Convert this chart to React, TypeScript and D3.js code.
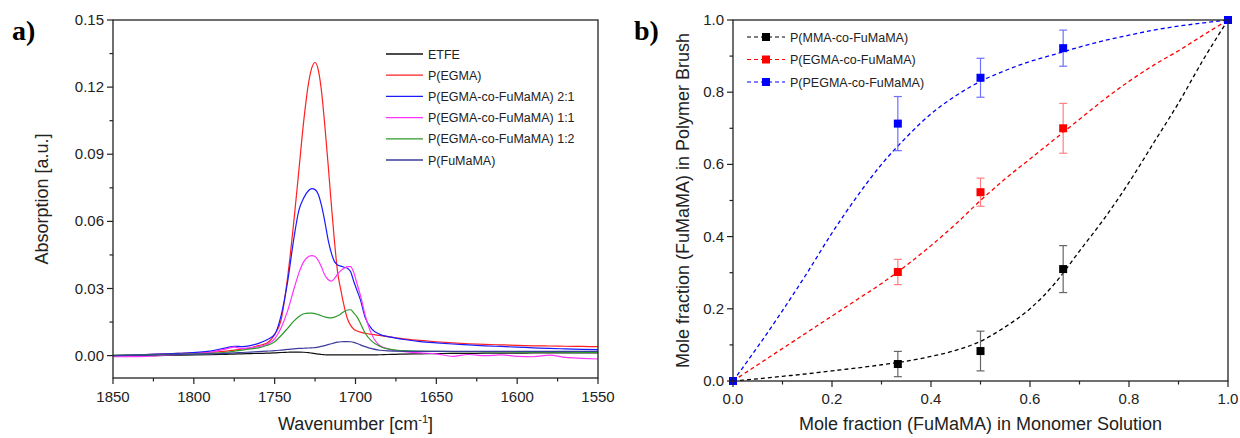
import * as d3 from 'd3';
import React from 'react';

// ---- panel a) FTIR spectra ----
const WAVENUMBERS = [1850, 1830, 1810, 1790, 1780, 1775, 1770, 1765, 1760, 1755, 1750, 1746, 1742, 1738, 1735, 1732, 1729, 1727, 1725, 1723, 1721, 1719, 1717, 1715, 1713, 1711, 1709, 1707, 1705, 1703, 1701, 1699, 1697, 1694, 1690, 1685, 1680, 1675, 1670, 1660, 1650, 1640, 1630, 1620, 1610, 1600, 1590, 1580, 1570, 1560, 1550];

const ETFE = [0, 0, 0.0002, 0.0004, 0.0006, 0.0007, 0.0008, 0.0009, 0.001, 0.0011, 0.0012, 0.0014, 0.0015, 0.0016, 0.0016, 0.0015, 0.0013, 0.0011, 0.0009, 0.0007, 0.0005, 0.0004, 0.0003, 0.0003, 0.0003, 0.0003, 0.0003, 0.0003, 0.0003, 0.0003, 0.0003, 0.0003, 0.0003, 0.0003, 0.0003, 0.0004, 0.0005, 0.0006, 0.0007, 0.0008, 0.0009, 0.001, 0.001, 0.0011, 0.0011, 0.0011, 0.0012, 0.0012, 0.0012, 0.0012, 0.0012];
const EGMA = [0, 0.0005, 0.001, 0.0015, 0.002, 0.0025, 0.003, 0.0035, 0.0045, 0.0055, 0.0095, 0.016, 0.035, 0.061, 0.083, 0.105, 0.122, 0.1287, 0.131, 0.1276, 0.118, 0.103, 0.086, 0.068, 0.051, 0.037, 0.029, 0.022, 0.0165, 0.0135, 0.0118, 0.011, 0.0105, 0.01, 0.0095, 0.009, 0.0085, 0.008, 0.0075, 0.0068, 0.0062, 0.0057, 0.0053, 0.005, 0.0048, 0.0046, 0.0044, 0.0043, 0.0042, 0.0041, 0.004];
const CO_2_1 = [0, 0.0005, 0.001, 0.002, 0.0035, 0.0042, 0.004, 0.0045, 0.0055, 0.007, 0.0095, 0.018, 0.033, 0.053, 0.065, 0.0705, 0.0738, 0.0746, 0.0742, 0.072, 0.067, 0.06, 0.052, 0.046, 0.042, 0.0405, 0.04, 0.0395, 0.039, 0.0375, 0.033, 0.029, 0.025, 0.017, 0.012, 0.0095, 0.0085, 0.0078, 0.0072, 0.0063, 0.0057, 0.0052, 0.0048, 0.0044, 0.0041, 0.0038, 0.0035, 0.0032, 0.003, 0.0028, 0.0027];
const CO_1_1 = [-0.0005, -0.0003, 0.0005, 0.0015, 0.003, 0.0038, 0.0032, 0.0035, 0.004, 0.005, 0.0075, 0.0125, 0.02, 0.03, 0.037, 0.042, 0.0443, 0.0447, 0.0443, 0.0425, 0.0395, 0.036, 0.034, 0.0333, 0.0345, 0.0365, 0.038, 0.039, 0.0398, 0.0398, 0.037, 0.032, 0.027, 0.018, 0.0095, 0.0045, 0.003, 0.0022, 0.0018, 0.0012, 0.0008, -0.0003, 0.0005, 0, 0.0003, -0.0003, -0.0005, 0.0002, -0.0008, -0.0012, -0.0015];
const CO_1_2 = [0.0002, 0.0003, 0.0006, 0.001, 0.0015, 0.002, 0.0025, 0.003, 0.0035, 0.0045, 0.0062, 0.009, 0.0122, 0.0155, 0.0175, 0.0187, 0.019, 0.019, 0.0188, 0.0183, 0.0178, 0.0173, 0.017, 0.0169, 0.0172, 0.0178, 0.0187, 0.0197, 0.0204, 0.0205, 0.019, 0.0172, 0.0145, 0.01, 0.0065, 0.0042, 0.003, 0.0025, 0.0022, 0.002, 0.0019, 0.0018, 0.0018, 0.0017, 0.0017, 0.0016, 0.0016, 0.0015, 0.0015, 0.0014, 0.0014];
const FUMAMA = [0, 0.0002, 0.0005, 0.0008, 0.001, 0.0012, 0.0014, 0.0016, 0.0018, 0.002, 0.0022, 0.0025, 0.0028, 0.003, 0.0032, 0.0033, 0.0034, 0.0035, 0.0036, 0.0038, 0.0041, 0.0045, 0.0049, 0.0053, 0.0057, 0.006, 0.0062, 0.0063, 0.0063, 0.0062, 0.0059, 0.0054, 0.0048, 0.004, 0.0031, 0.0024, 0.0021, 0.002, 0.0019, 0.0019, 0.0019, 0.0019, 0.0019, 0.0019, 0.0019, 0.0019, 0.0019, 0.0019, 0.0019, 0.0019, 0.0019];

const SPECTRA = [
  { name: 'ETFE', color: '#111111', values: ETFE },
  { name: 'P(EGMA)', color: '#ff2020', values: EGMA },
  { name: 'P(EGMA-co-FuMaMA) 2:1', color: '#1a1aff', values: CO_2_1 },
  { name: 'P(EGMA-co-FuMaMA) 1:1', color: '#ff33ff', values: CO_1_1 },
  { name: 'P(EGMA-co-FuMaMA) 1:2', color: '#2e9a2e', values: CO_1_2 },
  { name: 'P(FuMaMA)', color: '#3b3b9c', values: FUMAMA },
];

const WN_TICKS = [1850, 1800, 1750, 1700, 1650, 1600, 1550];
const ABS_TICKS = [0, 0.03, 0.06, 0.09, 0.12, 0.15];

// ---- panel b) copolymer composition ----
const FEED = [0, 0.333, 0.5, 0.667, 1];
const MMA_Y = [0, 0.047, 0.083, 0.31, 1];
const MMA_ERR = [0, 0.035, 0.055, 0.065, 0];
const EGMA_Y = [0, 0.302, 0.523, 0.7, 1];
const EGMA_ERR = [0, 0.035, 0.039, 0.069, 0];
const PEGMA_Y = [0, 0.713, 0.84, 0.922, 1];
const PEGMA_ERR = [0, 0.075, 0.054, 0.05, 0];

const FIT_X = [0, 0.05, 0.1, 0.15, 0.2, 0.25, 0.3, 0.35, 0.4, 0.45, 0.5, 0.55, 0.6, 0.65, 0.7, 0.75, 0.8, 0.85, 0.9, 0.95, 1];
const MMA_FIT = [0, 0.006, 0.013, 0.02, 0.028, 0.036, 0.045, 0.055, 0.068, 0.085, 0.11, 0.15, 0.2, 0.27, 0.36, 0.45, 0.55, 0.66, 0.77, 0.89, 1];
const EGMA_FIT = [0, 0.045, 0.09, 0.135, 0.18, 0.225, 0.27, 0.32, 0.375, 0.435, 0.5, 0.56, 0.615, 0.67, 0.725, 0.78, 0.83, 0.875, 0.915, 0.958, 1];
const PEGMA_FIT = [0, 0.095, 0.195, 0.3, 0.41, 0.51, 0.6, 0.675, 0.74, 0.79, 0.83, 0.86, 0.885, 0.905, 0.925, 0.943, 0.958, 0.972, 0.983, 0.992, 1];

const COMPOSITION = [
  { name: 'P(MMA-co-FuMaMA)', color: '#000000', bar: '#666666', y: MMA_Y, err: MMA_ERR, fit: MMA_FIT },
  { name: 'P(EGMA-co-FuMaMA)', color: '#ff0000', bar: '#ff8080', y: EGMA_Y, err: EGMA_ERR, fit: EGMA_FIT },
  { name: 'P(PEGMA-co-FuMaMA)', color: '#0000ff', bar: '#7070ff', y: PEGMA_Y, err: PEGMA_ERR, fit: PEGMA_FIT },
];

const FONT = "'Liberation Sans', Arial, sans-serif";
const AXIS = '#222';

const SpectraPanel = () => {
  const m = { left: 113, right: 598, top: 20, bottom: 378 };
  const x = d3.scaleLinear().domain([1850, 1550]).range([m.left, m.right]);
  const y = d3.scaleLinear().domain([-0.01, 0.15]).range([m.bottom, m.top]);
  const line = d3.line<[number, number]>()
    .x(d => x(d[0]))
    .y(d => y(d[1]))
    .curve(d3.curveMonotoneX);

  const minorX = d3.range(1825, 1550, -50);
  const minorY = d3.range(0.015, 0.15, 0.03);

  return (
    <g>
      <defs>
        <clipPath id="clipA">
          <rect x={m.left} y={m.top} width={m.right - m.left} height={m.bottom - m.top} />
        </clipPath>
      </defs>
      <g clipPath="url(#clipA)">
        {SPECTRA.map(s => (
          <path key={s.name} d={line(WAVENUMBERS.map((w, i) => [w, s.values[i]]))!}
            fill="none" stroke={s.color} strokeWidth={1.2} />
        ))}
      </g>
      <rect x={m.left} y={m.top} width={m.right - m.left} height={m.bottom - m.top}
        fill="none" stroke={AXIS} strokeWidth={1.3} />
      {WN_TICKS.map(t => (
        <g key={t}>
          <line x1={x(t)} x2={x(t)} y1={m.bottom} y2={m.bottom + 6} stroke={AXIS} strokeWidth={1.2} />
          <text x={x(t)} y={m.bottom + 24} textAnchor="middle" fontSize={15} fontFamily={FONT} fill="#222">{t}</text>
        </g>
      ))}
      {minorX.map(t => (
        <line key={t} x1={x(t)} x2={x(t)} y1={m.bottom} y2={m.bottom + 3.5} stroke={AXIS} strokeWidth={1.2} />
      ))}
      {ABS_TICKS.map(t => (
        <g key={t}>
          <line x1={m.left - 6} x2={m.left} y1={y(t)} y2={y(t)} stroke={AXIS} strokeWidth={1.2} />
          <text x={m.left - 9} y={y(t) + 5} textAnchor="end" fontSize={15} fontFamily={FONT} fill="#222">{d3.format('.2f')(t)}</text>
        </g>
      ))}
      {minorY.map(t => (
        <line key={t} x1={m.left - 3.5} x2={m.left} y1={y(t)} y2={y(t)} stroke={AXIS} strokeWidth={1.2} />
      ))}
      <text x={(m.left + m.right) / 2} y={430} textAnchor="middle" fontSize={18} fontFamily={FONT} fill="#222">
        Wavenumber [cm<tspan dy={-7} fontSize={11}>-1</tspan><tspan dy={7}>]</tspan>
      </text>
      <text transform={`translate(48,${(m.top + m.bottom) / 2}) rotate(-90)`} textAnchor="middle"
        fontSize={18} fontFamily={FONT} fill="#222">Absorption [a.u.]</text>
      {SPECTRA.map((s, i) => (
        <g key={s.name} transform={`translate(386,${54 + i * 21.2})`}>
          <line x1={0} x2={37} y1={0} y2={0} stroke={s.color} strokeWidth={1.3} />
          <text x={42} y={4.5} fontSize={12.5} fontFamily={FONT} fill="#222">{s.name}</text>
        </g>
      ))}
      <text x={12} y={40} fontSize={28} fontWeight="bold" fontFamily="'Liberation Serif', 'Times New Roman', serif">a)</text>
    </g>
  );
};

const CompositionPanel = () => {
  const m = { left: 733, right: 1228, top: 20, bottom: 381 };
  const x = d3.scaleLinear().domain([0, 1]).range([m.left, m.right]);
  const y = d3.scaleLinear().domain([0, 1]).range([m.bottom, m.top]);
  const line = d3.line<[number, number]>()
    .x(d => x(d[0]))
    .y(d => y(d[1]))
    .curve(d3.curveMonotoneX);
  const major = [0, 0.2, 0.4, 0.6, 0.8, 1];
  const minor = [0.1, 0.3, 0.5, 0.7, 0.9];

  return (
    <g>
      {COMPOSITION.map(s => (
        <path key={s.name} d={line(FIT_X.map((v, i) => [v, s.fit[i]]))!}
          fill="none" stroke={s.color} strokeWidth={1.3} strokeDasharray="4,3" />
      ))}
      {COMPOSITION.map(s => (
        <g key={s.name}>
          {FEED.map((f, i) => s.err[i] > 0 && (
            <g key={i} stroke={s.bar} strokeWidth={1.2}>
              <line x1={x(f)} x2={x(f)} y1={y(s.y[i] - s.err[i])} y2={y(s.y[i] + s.err[i])} />
              <line x1={x(f) - 4} x2={x(f) + 4} y1={y(s.y[i] - s.err[i])} y2={y(s.y[i] - s.err[i])} />
              <line x1={x(f) - 4} x2={x(f) + 4} y1={y(s.y[i] + s.err[i])} y2={y(s.y[i] + s.err[i])} />
            </g>
          ))}
          {FEED.map((f, i) => (
            <rect key={i} x={x(f) - 4} y={y(s.y[i]) - 4} width={8} height={8} fill={s.color} />
          ))}
        </g>
      ))}
      <rect x={m.left} y={m.top} width={m.right - m.left} height={m.bottom - m.top}
        fill="none" stroke={AXIS} strokeWidth={1.3} />
      {major.map(t => (
        <g key={t}>
          <line x1={x(t)} x2={x(t)} y1={m.bottom} y2={m.bottom + 6} stroke={AXIS} strokeWidth={1.2} />
          <text x={x(t)} y={m.bottom + 23} textAnchor="middle" fontSize={15} fontFamily={FONT} fill="#222">{d3.format('.1f')(t)}</text>
          <line x1={m.left - 6} x2={m.left} y1={y(t)} y2={y(t)} stroke={AXIS} strokeWidth={1.2} />
          <text x={m.left - 9} y={y(t) + 5} textAnchor="end" fontSize={15} fontFamily={FONT} fill="#222">{d3.format('.1f')(t)}</text>
        </g>
      ))}
      {minor.map(t => (
        <g key={t}>
          <line x1={x(t)} x2={x(t)} y1={m.bottom} y2={m.bottom + 3.5} stroke={AXIS} strokeWidth={1.2} />
          <line x1={m.left - 3.5} x2={m.left} y1={y(t)} y2={y(t)} stroke={AXIS} strokeWidth={1.2} />
        </g>
      ))}
      <text x={(m.left + m.right) / 2} y={430} textAnchor="middle" fontSize={18} fontFamily={FONT} fill="#222">
        Mole fraction (FuMaMA) in Monomer Solution
      </text>
      <text transform={`translate(689,${(m.top + m.bottom) / 2}) rotate(-90)`} textAnchor="middle"
        fontSize={18} fontFamily={FONT} fill="#222">Mole fraction (FuMaMA) in Polymer Brush</text>
      {COMPOSITION.map((s, i) => (
        <g key={s.name} transform={`translate(747,${37 + i * 22.5})`}>
          <line x1={0} x2={38} y1={0} y2={0} stroke={s.color} strokeWidth={1.2} strokeDasharray="4,3" />
          <rect x={15} y={-4} width={8} height={8} fill={s.color} />
          <text x={43} y={4.5} fontSize={12.5} fontFamily={FONT} fill="#222">{s.name}</text>
        </g>
      ))}
      <text x={634} y={40} fontSize={28} fontWeight="bold" fontFamily="'Liberation Serif', 'Times New Roman', serif">b)</text>
    </g>
  );
};

export default function App() {
  return (
    <svg width={1240} height={438} viewBox="0 0 1240 438"
      style={{ position: 'absolute', left: 0, top: 0, background: '#fff' }}>
      <SpectraPanel />
      <CompositionPanel />
    </svg>
  );
}
